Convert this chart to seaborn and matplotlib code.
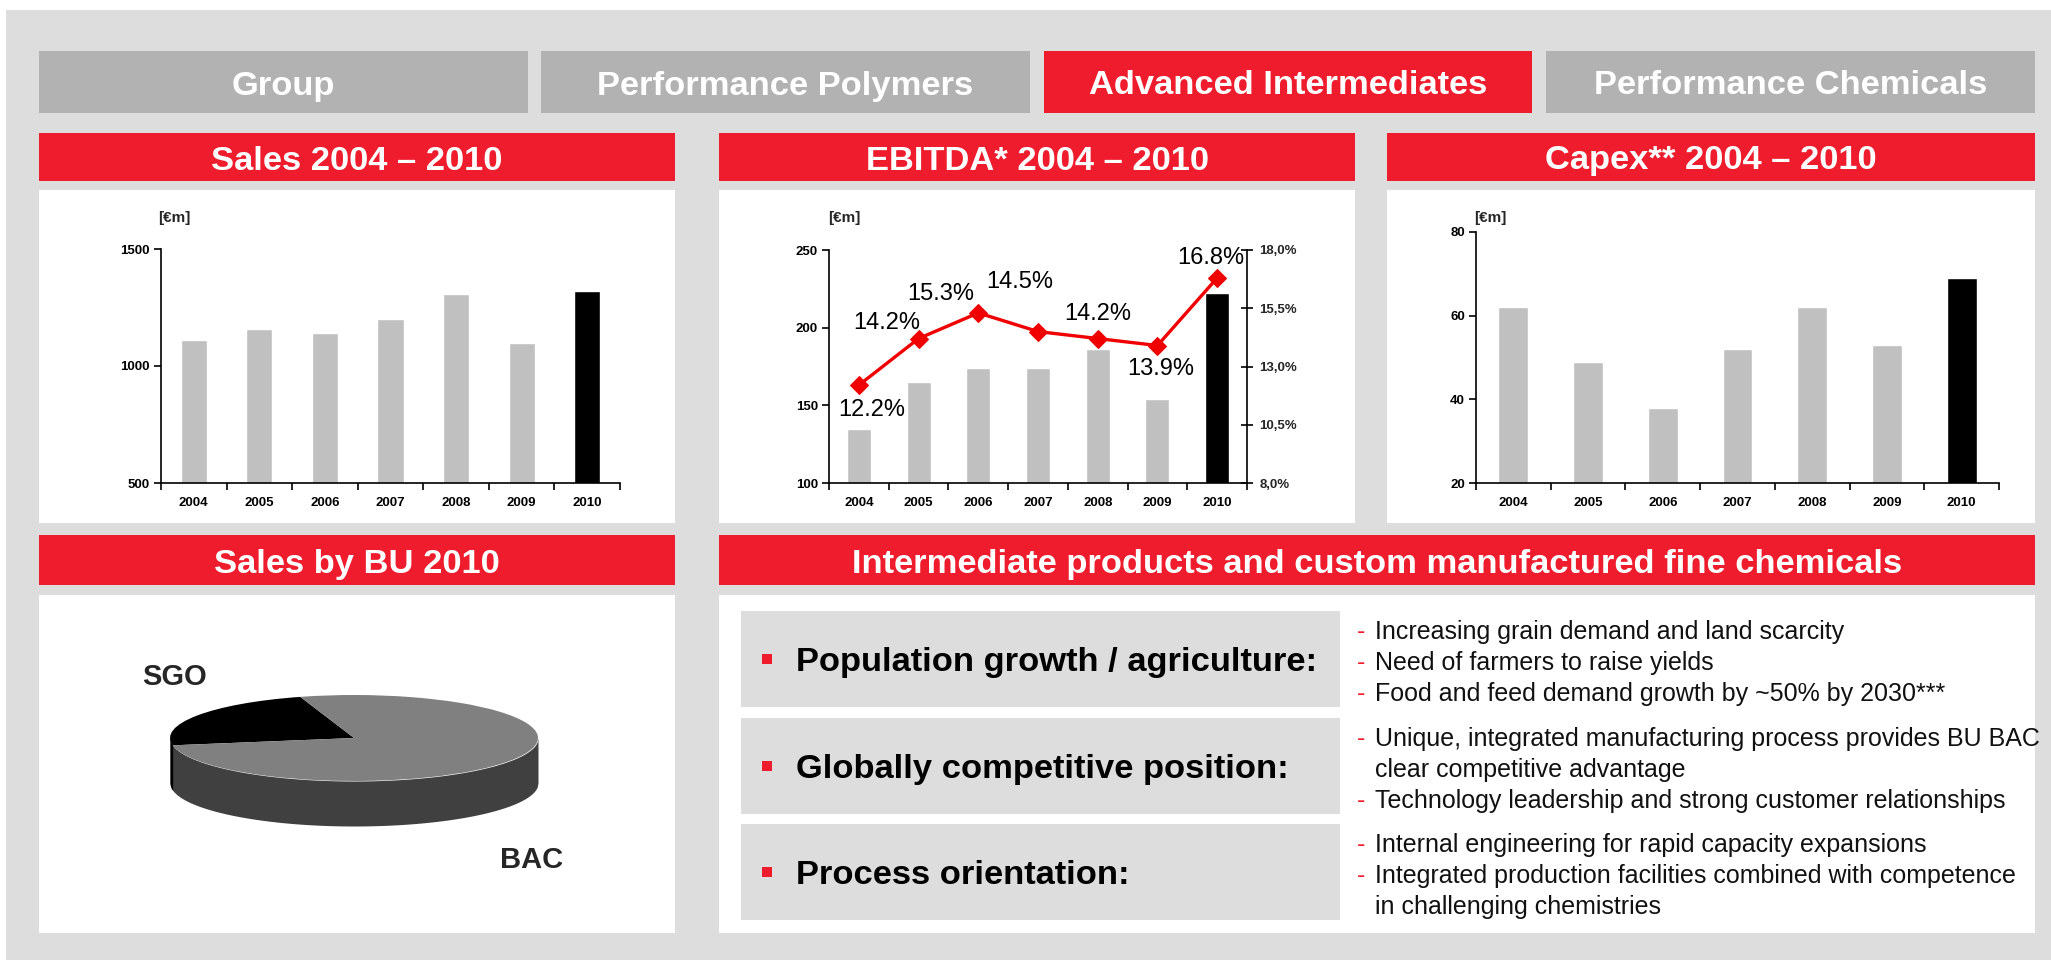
import numpy as np
import matplotlib
matplotlib.use("Agg")
import matplotlib.pyplot as plt
from matplotlib.patches import Rectangle
import seaborn as sns

# --- data ---
years = ["2004", "2005", "2006", "2007", "2008", "2009", "2010"]
sales = [1110, 1160, 1143, 1202, 1309, 1100, 1322]
ebitda = [135, 165, 174, 174, 186, 154, 222]
ebitda_margin = [12.2, 14.2, 15.3, 14.5, 14.2, 13.9, 16.8]
capex = [62, 49, 38, 52, 62, 53, 69]
bu_names = ["SGO", "BAC"]
bu_share = [23, 77]

tabs = ["Group", "Performance Polymers", "Advanced Intermediates", "Performance Chemicals"]
active_tab = "Advanced Intermediates"
drivers = ["Population growth / agriculture:", "Globally competitive position:", "Process orientation:"]
driver_points = [
    ["Increasing grain demand and land scarcity",
     "Need of farmers to raise yields",
     "Food and feed demand growth by ~50% by 2030***"],
    ["Unique, integrated manufacturing process provides BU BAC\nclear competitive advantage",
     "Technology leadership and strong customer relationships"],
    ["Internal engineering for rapid capacity expansions",
     "Integrated production facilities combined with competence\nin challenging chemistries"],
]

RED = "#EE1C2C"
LINE_RED = "#F00000"
BG = "#DDDDDD"
TAB_GRAY = "#B2B2B2"
bar_colors = {y: ("#000000" if y == years[-1] else "#C0C0C0") for y in years}
BIG = 24.8

sns.set_style("ticks")
plt.rcParams["font.family"] = ["Liberation Sans", "DejaVu Sans"]

W, H = 2051, 960
fig = plt.figure(figsize=(W / 100, H / 100), dpi=100)
fig.patch.set_facecolor("white")


def box(x0, y0, x1, y1, color):
    fig.add_artist(Rectangle((x0 / W, 1 - y1 / H), (x1 - x0) / W, (y1 - y0) / H,
                             transform=fig.transFigure, facecolor=color,
                             edgecolor="none", zorder=-5))


def label(x, y, s, **kw):
    fig.text(x / W, 1 - y / H, s, **kw)


def axes_px(x0, y0, x1, y1):
    return fig.add_axes([x0 / W, 1 - y1 / H, (x1 - x0) / W, (y1 - y0) / H])


# background and frames
box(6, 10, W, H, BG)
tab_x = [(39, 528), (541, 1030), (1044, 1532), (1546, 2035)]
for (x0, x1), name in zip(tab_x, tabs):
    box(x0, 51, x1, 113, RED if name == active_tab else TAB_GRAY)
    label((x0 + x1) / 2, 94.5, name, ha="center", va="baseline", color="white",
          fontsize=BIG, fontweight="bold")

headers = [((39, 675), "Sales 2004 – 2010"), ((719, 1355), "EBITDA* 2004 – 2010"),
           ((1387, 2035), "Capex** 2004 – 2010")]
for (x0, x1), name in headers:
    box(x0, 133, x1, 181, RED)
    box(x0, 190, x1, 523, "white")
    label((x0 + x1) / 2, 169.5, name, ha="center", va="baseline", color="white",
          fontsize=BIG, fontweight="bold")

headers2 = [((39, 675), "Sales by BU 2010"),
            ((719, 2035), "Intermediate products and custom manufactured fine chemicals")]
for (x0, x1), name in headers2:
    box(x0, 535, x1, 585, RED)
    box(x0, 595, x1, 933, "white")
    label((x0 + x1) / 2, 572.5, name, ha="center", va="baseline", color="white",
          fontsize=BIG, fontweight="bold")


def style_axes(ax, ylim, yticks):
    ax.set_xlim(-0.5, len(years) - 0.5)
    ax.set_ylim(*ylim)
    ax.set_yticks(yticks)
    ax.set_xticks(np.arange(-0.5, len(years), 1), minor=True)
    ax.tick_params(axis="x", which="major", length=0, pad=10, labelsize=9.5)
    ax.tick_params(axis="x", which="minor", length=5, width=1.2, direction="out", color="black")
    ax.tick_params(axis="y", length=5, width=1.2, direction="out", pad=3, labelsize=9.5, color="black")
    for s in ["top", "right"]:
        ax.spines[s].set_visible(False)
    for s in ["left", "bottom"]:
        ax.spines[s].set_color("black")
        ax.spines[s].set_linewidth(1.2)
    ax.set_xlabel("")
    ax.set_ylabel("")
    ax.patch.set_alpha(0)
    for t in ax.get_xticklabels() + ax.get_yticklabels():
        t.set_fontweight("bold")
        t.set_color("black")


def bar_panel(ax, values, ylim, yticks):
    sns.barplot(x=years, y=values, hue=years, palette=bar_colors, width=0.4,
                saturation=1, legend=False, ax=ax)
    style_axes(ax, ylim, yticks)


# Sales
ax1 = axes_px(161, 249, 620, 483)
bar_panel(ax1, sales, (500, 1500), [500, 1000, 1500])
label(158, 222, "[€m]", fontsize=11, fontweight="bold", va="baseline")

# EBITDA with margin line
ax2 = axes_px(829, 250, 1247, 483)
bar_panel(ax2, ebitda, (100, 250), [100, 150, 200, 250])
ax2r = ax2.twinx()
sns.lineplot(x=np.arange(len(years)), y=ebitda_margin, ax=ax2r, color=LINE_RED,
             linewidth=2.4, marker="D", markersize=9, markeredgecolor=LINE_RED)
ax2.set_xlim(-0.5, len(years) - 0.5)
ax2r.set_ylim(8, 18)
rticks = [8, 10.5, 13, 15.5, 18]
ax2r.set_yticks(rticks)
ax2r.set_yticklabels([f"{v:.1f}%".replace(".", ",") for v in rticks])
ax2r.tick_params(axis="y", direction="inout", length=8, width=1.2, pad=5, labelsize=9.5, color="black")
for t in ax2r.get_yticklabels():
    t.set_fontweight("bold")
for s in ["top", "left", "bottom"]:
    ax2r.spines[s].set_visible(False)
ax2r.spines["right"].set_color("black")
ax2r.spines["right"].set_linewidth(1.2)
ax2r.set_ylabel("")
ax2r.set_xlabel("")
label_offsets = [(13, -25), (-32, 16), (-38, 19), (-18, 50), (0, 25), (3, -23), (-6, 20)]
for i, v in enumerate(ebitda_margin):
    ax2r.annotate(f"{v:.1f}%", (i, v), xytext=label_offsets[i], textcoords="offset pixels",
                  ha="center", va="center", fontsize=17, color="black")
label(828, 222, "[€m]", fontsize=11, fontweight="bold", va="baseline")

# Capex
ax3 = axes_px(1476, 232, 1999, 483)
bar_panel(ax3, capex, (20, 80), [20, 40, 60, 80])
label(1474, 222, "[€m]", fontsize=11, fontweight="bold", va="baseline")

# 3D-looking pie for sales by BU
axp = axes_px(151.6, 686.4, 556.4, 834.75)
start = 107
axp.pie(bu_share, colors=["black", "#808080"], startangle=start, counterclock=True,
        wedgeprops=dict(linewidth=0))
axp.set_aspect("auto")
axp.set_xlim(-1.1, 1.1)
axp.set_ylim(-2.25, 1.2)
depth = 45 / 43
xs = np.linspace(-1, 1, 500)
rim = -np.sqrt(1 - xs ** 2)
axp.fill_between(xs, rim - depth, rim, color="#404040", lw=0, zorder=0)
sgo_end = np.radians(start + 360 * bu_share[0] / sum(bu_share))
xs2 = np.linspace(-1, np.cos(sgo_end), 20)
rim2 = -np.sqrt(1 - xs2 ** 2)
axp.fill_between(xs2, rim2 - depth, rim2, color="black", lw=0, zorder=0)
axp.axis("off")
label(175, 685, bu_names[0], ha="center", va="baseline", fontsize=21, fontweight="bold")
label(532, 868, bu_names[1], ha="center", va="baseline", fontsize=21, fontweight="bold")

# drivers
box_rows = [(611, 707), (718, 814), (824, 920)]
for (y0, y1), head, points in zip(box_rows, drivers, driver_points):
    box(741, y0, 1340, y1, BG)
    cy = (y0 + y1) / 2
    box(762, cy - 5, 772, cy + 5, RED)
    label(796, cy + 12, head, ha="left", va="baseline", fontsize=BIG, fontweight="bold",
          color="black")
    lines = []
    for p in points:
        for j, part in enumerate(p.split("\n")):
            lines.append((j == 0, part))
    n = len(lines)
    for k, (first, txt) in enumerate(lines):
        yc = cy + 2 + (k - (n - 1) / 2) * 31
        if first:
            label(1357, yc + 9, "-", ha="left", va="baseline", fontsize=18, color=RED)
        label(1375, yc + 9, txt, ha="left", va="baseline", fontsize=18, color="#111111")

fig.savefig("out.png", dpi=100)
